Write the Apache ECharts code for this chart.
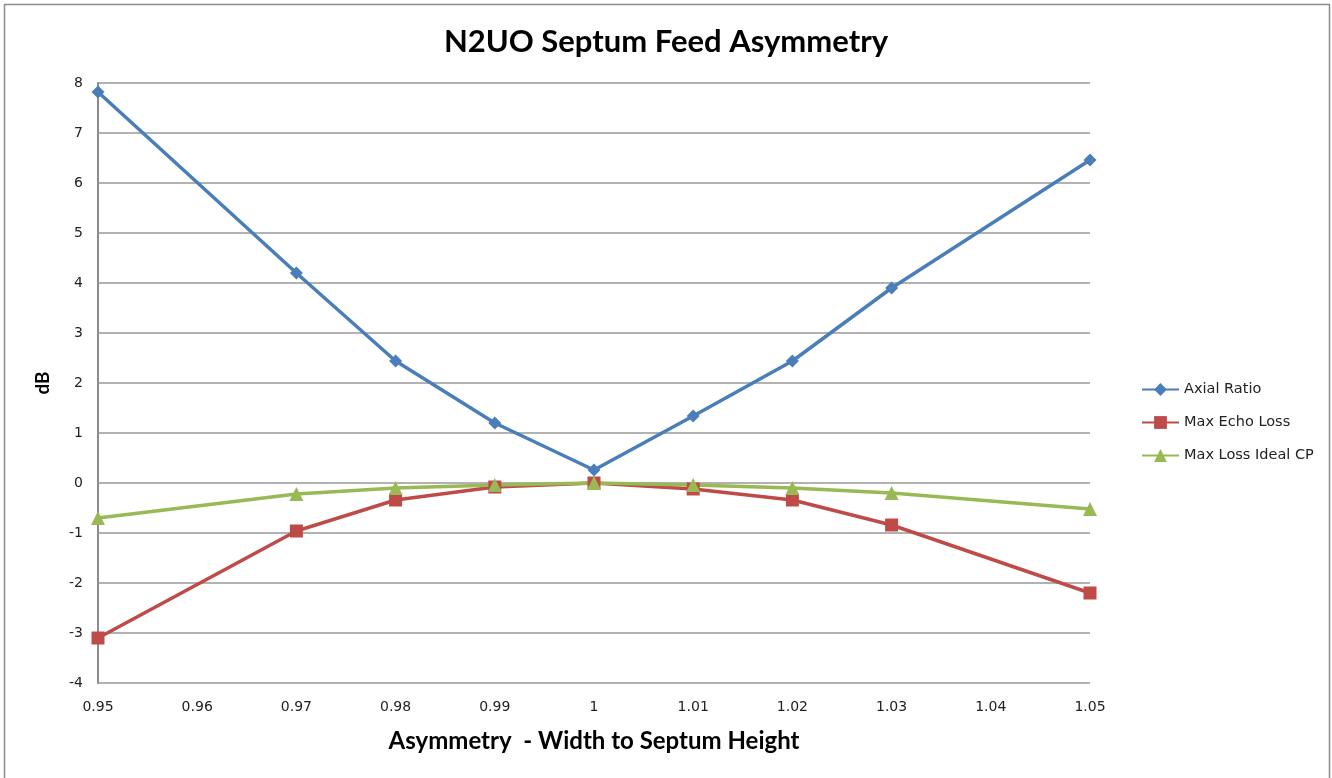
<!DOCTYPE html>
<html>
<head>
<meta charset="utf-8">
<script src="https://cdn.jsdelivr.net/npm/echarts@6/dist/echarts.min.js"></script>
<style>
html,body{margin:0;padding:0;background:#fff}
#chart{width:1332px;height:778px}
</style>
</head>
<body>
<div id="chart"></div>
<script>

// asymmetry values (width / septum height)
const asym = [0.95,0.97,0.98,0.99,1,1.01,1.02,1.03,1.05]

const axialRatio = [7.82,4.2,2.44,1.2,0.26,1.34,2.44,3.9,6.46]
const maxEchoLoss = [-3.1,-0.96,-0.34,-0.08,0,-0.12,-0.34,-0.84,-2.2]
const maxLossIdealCP = [-0.7,-0.22,-0.1,-0.04,0,-0.04,-0.1,-0.2,-0.52]

const seriesNames = ["Axial Ratio","Max Echo Loss","Max Loss Ideal CP"]

const FONT = "Lato, 'Open Sans', sans-serif"
const SMALL = "'DejaVu Sans', Verdana, sans-serif"

function pairs(vals){
return asym.map((x,i) => [x, vals[i]])
}

const chart = echarts.init(document.getElementById("chart"))

chart.setOption({

animation:false,

title:{
text:"N2UO Septum Feed Asymmetry",
left:"center",
top:21,
textStyle:{fontFamily:FONT,fontSize:31,fontWeight:"bold",color:"#000"}
},

grid:{left:98,right:242,top:83,bottom:95},

legend:{
orient:"vertical",
left:1136,
top:377,
itemGap:18,
itemWidth:37,
itemHeight:16,
data:seriesNames,
textStyle:{fontFamily:SMALL,fontSize:14.5,color:"#222"}
},

xAxis:{
type:"value",
min:0.95,
max:1.05,
interval:0.01,
name:"Asymmetry  - Width to Septum Height",
nameLocation:"middle",
nameGap:46,
nameTextStyle:{fontFamily:FONT,fontSize:24,fontWeight:"bold",color:"#000"},
axisLine:{show:false},
axisTick:{show:false},
splitLine:{show:false},
axisLabel:{fontFamily:SMALL,fontSize:14,color:"#222",margin:17,
formatter:v => String(Math.round(v*100)/100)}
},

yAxis:{
type:"value",
min:-4,
max:8,
interval:1,
name:"dB",
nameLocation:"middle",
nameGap:46,
nameRotate:90,
nameTextStyle:{fontFamily:FONT,fontSize:19,fontWeight:"bold",color:"#000"},
axisLine:{show:true,lineStyle:{color:"#8c8c8c",width:2}},
axisTick:{show:false},
splitLine:{lineStyle:{color:"#999",width:1.5}},
axisLabel:{fontFamily:SMALL,fontSize:14,color:"#222",margin:15}
},

graphic:[{
type:"rect",
shape:{x:4.5,y:4.5,width:1325,height:800},
style:{fill:"none",stroke:"#8c8c8c",lineWidth:1.5},
silent:true
}],

series:[
{
name:seriesNames[0],
type:"line",
data:pairs(axialRatio),
symbol:"diamond",
symbolSize:13,
lineStyle:{color:"#4a7ebb",width:3.5},
itemStyle:{color:"#4a7ebb"}
},
{
name:seriesNames[1],
type:"line",
data:pairs(maxEchoLoss),
symbol:"rect",
symbolSize:13,
lineStyle:{color:"#be4b48",width:3.5},
itemStyle:{color:"#be4b48"}
},
{
name:seriesNames[2],
type:"line",
data:pairs(maxLossIdealCP),
symbol:"triangle",
symbolSize:14,
lineStyle:{color:"#98b954",width:3.5},
itemStyle:{color:"#98b954"}
}
]

})

</script>
</body>
</html>
